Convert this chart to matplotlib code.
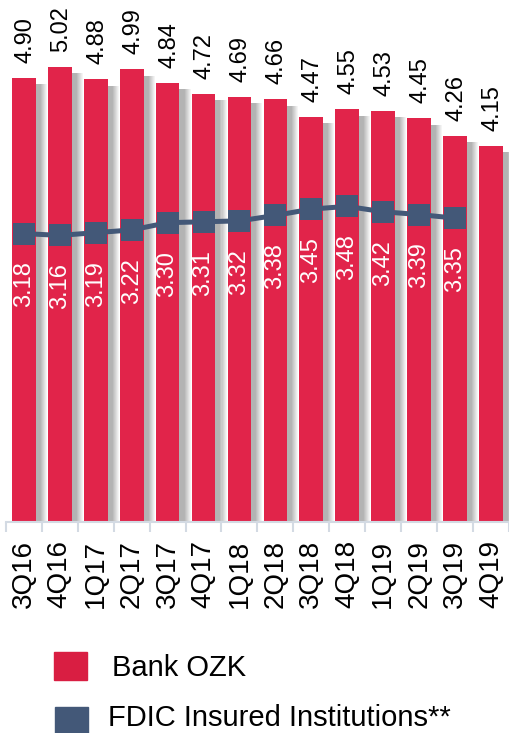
import numpy as np
import matplotlib
matplotlib.use("Agg")
import matplotlib.pyplot as plt
from matplotlib.patches import Rectangle

# Данные
quarters = ["3Q16", "4Q16", "1Q17", "2Q17", "3Q17", "4Q17", "1Q18",
            "2Q18", "3Q18", "4Q18", "1Q19", "2Q19", "3Q19", "4Q19"]
ozk = [4.90, 5.02, 4.88, 4.99, 4.84, 4.72, 4.69,
       4.66, 4.47, 4.55, 4.53, 4.45, 4.26, 4.15]
fdic = [3.18, 3.16, 3.19, 3.22, 3.30, 3.31, 3.32,
        3.38, 3.45, 3.48, 3.42, 3.39, 3.35]

# Оформление
red = '#E1244A'
red_legend = '#D91E42'
blue = '#435878'
axis_color = '#D3DAE3'
plt.rcParams['font.family'] = ['Liberation Sans', 'DejaVu Sans']

W, H = 509, 733
fig = plt.figure(figsize=(W / 100, H / 100), dpi=100)
pitch = 36.3
x0 = 24.0
left_px = x0 - 0.5 * pitch
base_px = 522
scale = 90.7
ax = fig.add_axes([left_px / W, (H - base_px) / H, (W - left_px) / W, base_px / H])
ax.set_xlim(-0.5, (W - x0) / pitch)
ax.set_ylim(0, base_px / scale)

x = np.arange(len(quarters))
bw = 24 / pitch

# Размытая тень справа от столбиков
n_strips = 12
gap = 1 - bw
for k in range(n_strips):
    t = k / (n_strips - 1)
    g = 0.70 if t < 0.35 else 0.70 + 0.30 * (t - 0.35) / 0.65
    ax.bar(x + bw / 2 + k * gap / n_strips, np.array(ozk) - 0.07,
           width=gap / n_strips + 0.003, align='edge',
           color=(g, g, g), linewidth=0, zorder=1)

# Столбики
ax.bar(x, ozk, width=bw, color=red, linewidth=0, zorder=2)

# Линия FDIC
xf = np.arange(len(fdic))
ax.plot(xf, fdic, color=blue, linewidth=3.6, marker='s', markersize=16.5,
        markeredgewidth=0, zorder=4, solid_capstyle='butt')

# Подписи значений
for xi, v in zip(x, ozk):
    ax.text(xi + 0.04, v + 15 / scale, f"{v:.2f}", rotation=90, ha='center',
            va='bottom', fontsize=17, color='black', zorder=5)
for xi, v in zip(xf, fdic):
    ax.text(xi, v - 28 / scale, f"{v:.2f}", rotation=90, ha='center',
            va='top', fontsize=17, color='white', zorder=5)

# Оси
for s in ['top', 'right', 'left']:
    ax.spines[s].set_visible(False)
ax.spines['bottom'].set_color(axis_color)
ax.spines['bottom'].set_linewidth(1.5)
ax.set_yticks([])
ax.set_xticks(x)
ax.set_xticklabels(quarters, rotation=90, fontsize=20)
ax.set_xticks(np.arange(-0.5, len(quarters), 1), minor=True)
ax.tick_params(axis='x', which='major', length=0, pad=13)
ax.tick_params(axis='x', which='minor', length=7.5, width=1.5, color=axis_color)

# Легенда
fig.patches.append(Rectangle((54 / W, 1 - 680 / H), 33 / W, 28 / H,
                             transform=fig.transFigure, color=red_legend))
fig.patches.append(Rectangle((55 / W, 1 - 735 / H), 33 / W, 28 / H,
                             transform=fig.transFigure, color=blue))
fig.text(112 / W, 1 - 676 / H, "Bank OZK", fontsize=21, va='baseline')
fig.text(108 / W, 1 - 726 / H, "FDIC Insured Institutions**", fontsize=21,
         va='baseline')

fig.savefig('out.png', dpi=100)
